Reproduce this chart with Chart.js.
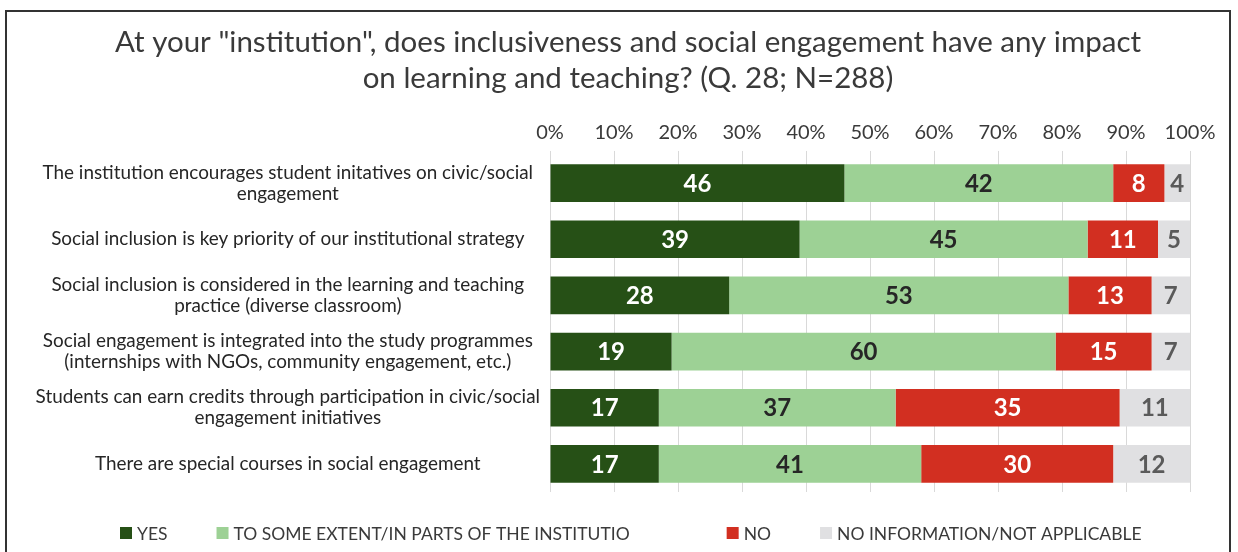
<!DOCTYPE html>
<html>
<head>
<meta charset="utf-8">
<script src="https://cdn.jsdelivr.net/npm/chart.js@4.4.1/dist/chart.umd.min.js"></script>
<style>
  html, body { margin: 0; padding: 0; background: #fff; }
  #wrap { position: relative; width: 1238px; height: 552px; overflow: hidden; }
  #marco { position: absolute; left: 5px; top: 10px; width: 1226px; height: 600px; border: 2px solid #333; box-sizing: border-box; pointer-events: none; }
  canvas { position: absolute; left: 0; top: 0; }
</style>
</head>
<body>
<div id="wrap">
  <canvas id="grafico" width="1238" height="552"></canvas>
  <div id="marco"></div>
</div>
<script>
// Datos
const categorias = [
    ['The institution encourages student initatives on civic/social', 'engagement'],
    'Social inclusion is key priority of our institutional strategy',
    ['Social inclusion is considered in the learning and teaching', 'practice (diverse classroom)'],
    ['Social engagement is integrated into the study programmes', '(internships with NGOs, community engagement, etc.)'],
    ['Students can earn credits through participation in civic/social', 'engagement initiatives'],
    'There are special courses in social engagement'
];
const si = [46, 39, 28, 19, 17, 17];
const enParte = [42, 45, 53, 60, 37, 41];
const no = [8, 11, 13, 15, 35, 30];
const sinInfo = [4, 5, 7, 7, 11, 12];
const ticksX = [0, 10, 20, 30, 40, 50, 60, 70, 80, 90, 100];

const series = [
    { label: 'YES', data: si, color: '#265016', texto: '#ffffff' },
    { label: 'TO SOME EXTENT/IN PARTS OF THE INSTITUTIO', data: enParte, color: '#9dd195', texto: '#262626' },
    { label: 'NO', data: no, color: '#d22f21', texto: '#ffffff' },
    { label: 'NO INFORMATION/NOT APPLICABLE', data: sinInfo, color: '#e0e0e2', texto: '#5a5a5a' }
];

// Plugin para escribir los valores dentro de las barras
const etiquetasBarras = {
    id: 'etiquetasBarras',
    afterDatasetsDraw(chart) {
        const ctx = chart.ctx;
        ctx.save();
        ctx.font = 'bold 24px Lato';
        ctx.textAlign = 'center';
        ctx.textBaseline = 'middle';
        chart.data.datasets.forEach((ds, i) => {
            const meta = chart.getDatasetMeta(i);
            meta.data.forEach((bar, j) => {
                const xIni = bar.base;
                const xFin = Math.min(bar.x, chart.chartArea.right);
                ctx.fillStyle = series[i].texto;
                ctx.fillText(ds.data[j], (xIni + xFin) / 2, bar.y + 1);
            });
        });
        ctx.restore();
    }
};

// Leyenda dibujada a mano (para imitar los huecos de Excel)
const leyendaAbajo = {
    id: 'leyendaAbajo',
    afterDraw(chart) {
        const ctx = chart.ctx;
        const huecos = [49, 97, 49];
        let x = 120;
        const y = 533;
        ctx.save();
        ctx.font = '17.5px Lato';
        ctx.textBaseline = 'middle';
        ctx.textAlign = 'left';
        chart.data.datasets.forEach((ds, i) => {
            ctx.fillStyle = ds.backgroundColor;
            ctx.fillRect(x, y - 6, 12, 12);
            ctx.fillStyle = '#3a3a3a';
            ctx.fillText(ds.label, x + 17, y + 1);
            x += 17 + ctx.measureText(ds.label).width + (huecos[i] || 0);
        });
        ctx.restore();
    }
};

// El título va algo desplazado a la derecha, como en el original
const moverTitulo = {
    id: 'moverTitulo',
    afterLayout(chart) {
        chart.titleBlock.left += 19;
        chart.titleBlock.right += 19;
    }
};

const ctx = document.getElementById('grafico').getContext('2d');
new Chart(ctx, {
    type: 'bar',
    data: {
        labels: categorias,
        datasets: series.map(s => ({
            label: s.label,
            data: s.data,
            backgroundColor: s.color,
            borderWidth: 0,
            barPercentage: 0.67,
            categoryPercentage: 1
        }))
    },
    options: {
        indexAxis: 'y',
        responsive: false,
        animation: false,
        layout: { padding: { left: 28, right: 48, top: 0, bottom: 60 } },
        plugins: {
            title: {
                display: true,
                text: ['At your "institution", does inclusiveness and social engagement have any impact', 'on learning and teaching? (Q. 28; N=288)'],
                color: '#3a3a3a',
                font: { family: 'Lato', size: 29.5, weight: 'normal', lineHeight: 1.22 },
                padding: { top: 24, bottom: 19 }
            },
            legend: { display: false },
            tooltip: { enabled: false }
        },
        scales: {
            x: {
                position: 'top',
                stacked: true,
                min: 0,
                max: 100,
                afterBuildTicks: axis => { axis.ticks = ticksX.map(v => ({ value: v })); },
                ticks: {
                    color: '#3a3a3a',
                    font: { family: 'Lato', size: 20 },
                    padding: 6,
                    callback: v => v + '%'
                },
                grid: { color: '#d9d9d9', tickLength: 4 },
                border: { display: false }
            },
            y: {
                stacked: true,
                afterFit: axis => { axis.width = 522; },
                ticks: {
                    color: '#262626',
                    font: { family: 'Lato', size: 18.9, lineHeight: 1.11 },
                    crossAlign: 'center',
                    padding: 10
                },
                grid: { display: false, drawTicks: false },
                border: { display: false }
            }
        }
    },
    plugins: [etiquetasBarras, leyendaAbajo, moverTitulo]
});
</script>
</body>
</html>
